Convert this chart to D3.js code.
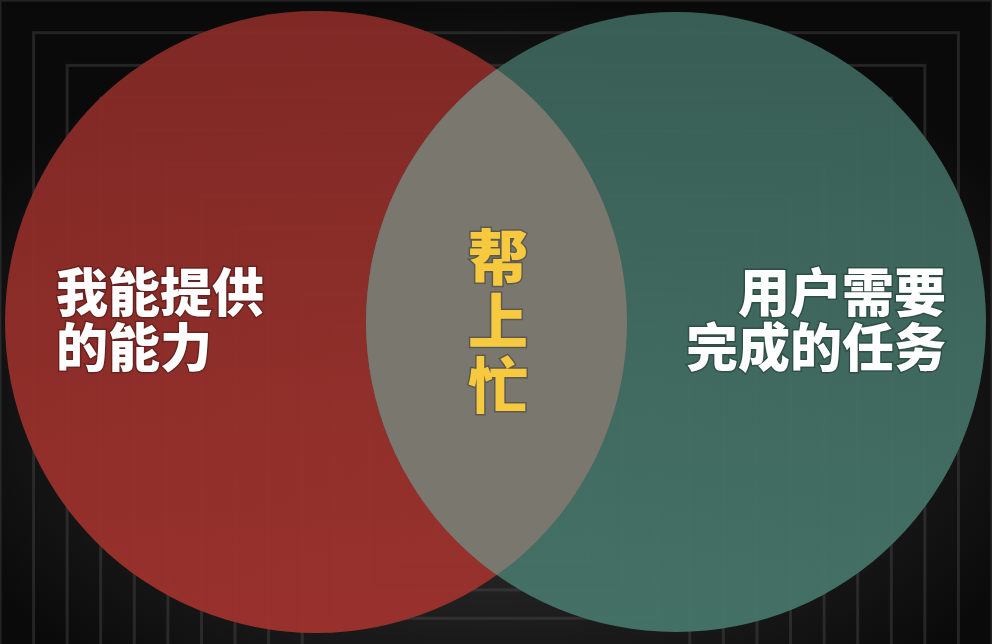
<!DOCTYPE html>
<html><head><meta charset="utf-8">
<script src="https://cdn.jsdelivr.net/npm/d3@7"></script>
<style>body{margin:0;background:#000}svg{display:block}</style></head>
<body><script>
const sets = [
  {name:"left", cx:316, cy:322, r:311, color:"#8c2c28", lines:["我能提供","的能力"]},
  {name:"right", cx:676, cy:322, r:310, color:"#3e675d", lines:["用户需要","完成的任务"]}
];
const overlapColor = "#7c7870";
const overlapLabel = ["帮","上","忙"];
const W=992,H=644;
const svg=d3.select("body").append("svg").attr("width",W).attr("height",H);
const defs=svg.append("defs");
const bg=defs.append("radialGradient").attr("id","bg").attr("cx","50%").attr("cy","60%").attr("r","60%");
bg.append("stop").attr("offset","0%").attr("stop-color","#3a3a3a");
bg.append("stop").attr("offset","100%").attr("stop-color","#0a0a0a");
svg.append("rect").attr("width",W).attr("height",H).attr("fill","url(#bg)");
const frames=d3.range(0,14);
const fs=d3.scaleLinear().domain([0,13]).range([1,0.12]);
svg.selectAll(".fr").data(frames).join("rect")
 .attr("x",d=>W/2-W/2*fs(d)).attr("y",d=>H*0.75-H*0.75*fs(d))
 .attr("width",d=>W*fs(d)).attr("height",d=>H*1.4*fs(d))
 .attr("fill","none").attr("stroke","#555").attr("stroke-opacity",0.35).attr("stroke-width",3);
sets.forEach(s=>{
  const g=defs.append("linearGradient").attr("id","g"+s.name).attr("x1",0).attr("y1",0).attr("x2",0).attr("y2",1);
  g.append("stop").attr("offset","0%").attr("stop-color",d3.color(s.color).darker(0.15));
  g.append("stop").attr("offset","100%").attr("stop-color",d3.color(s.color).brighter(0.35));
});
defs.append("clipPath").attr("id","clipL").append("circle")
 .attr("cx",sets[0].cx).attr("cy",sets[0].cy).attr("r",sets[0].r);
svg.selectAll(".c").data(sets).join("circle")
 .attr("cx",d=>d.cx).attr("cy",d=>d.cy).attr("r",d=>d.r)
 .attr("fill",d=>`url(#g${d.name})`).attr("fill-opacity",0.95);
svg.append("circle").attr("cx",sets[1].cx).attr("cy",sets[1].cy).attr("r",sets[1].r)
 .attr("clip-path","url(#clipL)").attr("fill",overlapColor).attr("fill-opacity",0.97);
const font="'Noto Sans CJK SC', sans-serif";
const txt=(x,y,t,anchor,fill,size)=>svg.append("text").attr("x",x).attr("y",y).text(t)
 .attr("text-anchor",anchor).attr("fill",fill).attr("font-size",size).attr("font-weight",900)
 .attr("font-family",font).attr("style","paint-order:stroke").attr("stroke","rgba(0,0,0,0.25)").attr("stroke-width",3);
sets[0].lines.forEach((l,i)=>txt(56,312+i*55,l,"start","#fff",52));
sets[1].lines.forEach((l,i)=>txt(946,312+i*55,l,"end","#fff",52));
overlapLabel.forEach((l,i)=>txt(498,280+i*64,l,"middle","#f6c93e",60));
</script></body></html>
